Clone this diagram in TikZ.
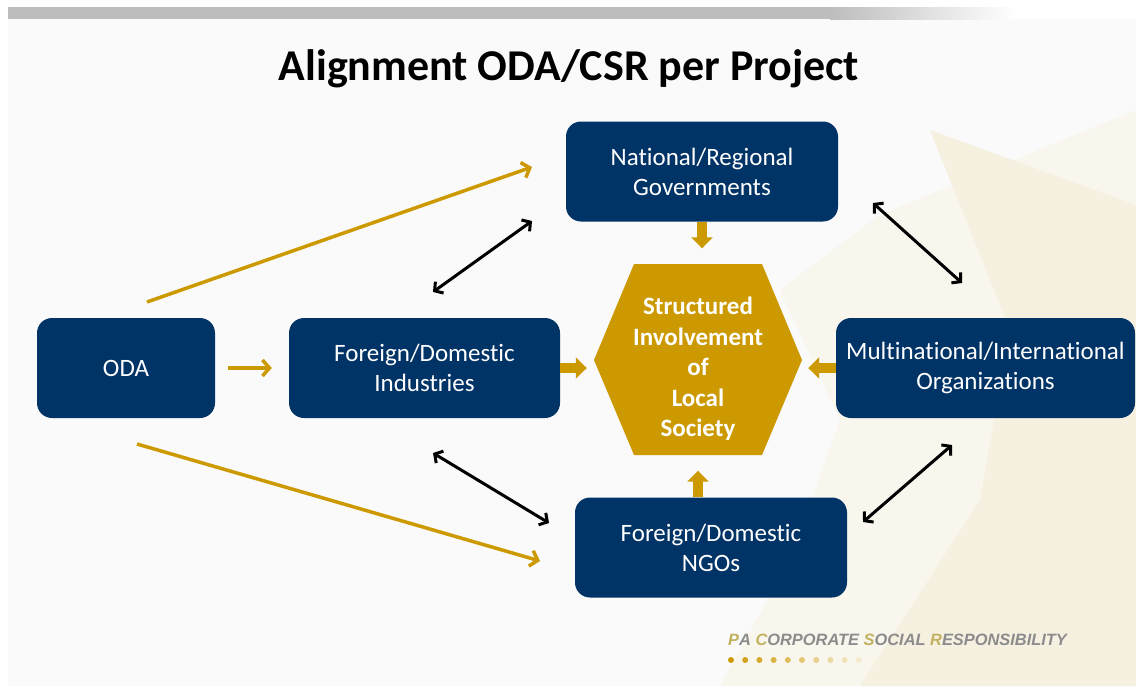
\documentclass[tikz,border=0pt]{standalone}
\usepackage{fontspec}
\setmainfont{Carlito}[Ligatures = {NoCommon}]
\newfontfamily\footfont{Liberation Sans}
\usetikzlibrary{arrows.meta}

\definecolor{navy}{HTML}{003366}
\definecolor{gold}{HTML}{CC9900}
\definecolor{bargray}{HTML}{BDBDBD}
\definecolor{paper}{HTML}{FAFAFA}
\definecolor{creamA}{HTML}{F9F6EE}
\definecolor{creamB}{HTML}{F6F0E1}
\definecolor{footgray}{HTML}{8C8C8C}
\definecolor{footgold}{HTML}{C2B260}

\begin{document}
\begin{tikzpicture}[x = 1pt, y = -1pt,
    box/.style = {fill = navy, text = white, rounded corners = 15pt, minimum height = 100pt,
      inner sep = 2pt, align = center, font = \fontsize{25}{30}\selectfont},
    feed/.style = {gold, line width = 3.5pt, -{Straight Barb[length = 7pt, width = 16pt]}},
    link/.style = {line width = 3pt,
      {Straight Barb[length = 6pt, width = 14pt]}-{Straight Barb[length = 6pt, width = 14pt]}},
    push/.style = {gold, line width = 10pt, -{Triangle[length = 11pt, width = 21pt]}}]
  \useasboundingbox (0,0) rectangle (1136,686);

  % slide background
  \fill [white] (0,0) rectangle (1136,686);
  \fill [paper] (8,19) rectangle (1136,686);
  \fill [bargray] (8,7) rectangle (830,19);
  \shade [left color = bargray, right color = white] (830,7) rectangle (1015,19);
  \fill [creamA] (780,290) -- (880,215) -- (1136,110) -- (1136,686) -- (720,686)
    -- (790,560) -- (840,420) -- cycle;
  \fill [creamB] (930,130) -- (1136,205) -- (1136,686) -- (860,686) -- (980,500)
    -- (1010,330) -- cycle;

  \node (title) at (569,80) [anchor = base, font = \fontsize{44}{50}\selectfont\bfseries]
    {Alignment ODA/CSR per Project};

  % actors
  \node (oda) at (126,368) [box, minimum width = 178pt] {ODA};
  \node (ind) at (424.5,368) [box, minimum width = 271pt] {Foreign/Domestic\\Industries};
  \node (gov) at (702,171.5) [box, minimum width = 272pt] {National/Regional\\Governments};
  \node (mult) at (985.5,368) [box, minimum width = 299pt]
    {Multinational/International\\Organizations};
  \node (ngo) at (711,547.5) [box, minimum width = 272pt] {Foreign/Domestic\\NGOs};

  % local society in the middle
  \fill [gold] (594,360) -- (634,264) -- (762,264) -- (802,360) -- (762,455)
    -- (634,455) -- cycle;
  \node (hex) at (698,360) [minimum width = 208pt, minimum height = 191pt, inner sep = 0pt] {};
  \node (hextext) at (698,369) [text = white, align = center,
    font = \fontsize{25}{30.5}\selectfont\bfseries]
    {Structured\\Involvement\\of\\Local\\Society};

  \draw [push, shorten >= 16pt] (gov.south) -- (gov.south |- hex.north);
  \draw [push, shorten >= 15pt] (ngo.north -| hex.south) -- (hex.south);
  \draw [push, shorten >= 7pt] (ind.east) -- (ind.east -| hex.west);
  \draw [push, shorten >= 6pt] (mult.west) -- (mult.west -| hex.east);

  % ODA funding lines
  \coordinate (odaup) at (147,302);
  \coordinate (odadown) at (137,444);
  \coordinate (govtip) at (532,167);
  \coordinate (ngotip) at (540,561);
  \draw [feed, shorten <= 13pt, shorten >= 17pt] (oda) -- (ind);
  \draw [feed] (odaup) -- (govtip);
  \draw [feed] (odadown) -- (ngotip);

  % partner links
  \coordinate (indup) at (433,292);
  \coordinate (govdown) at (532,221);
  \coordinate (indlow) at (433,453);
  \coordinate (ngoleft) at (549,523);
  \coordinate (govright) at (873,203);
  \coordinate (multup) at (962,283);
  \coordinate (ngoright) at (863,522);
  \coordinate (multlow) at (952,445);
  \draw [link] (indup) -- (govdown);
  \draw [link] (indlow) -- (ngoleft);
  \draw [link] (govright) -- (multup);
  \draw [link] (ngoright) -- (multlow);

  % footer
  \node (foot) at (728,645) [anchor = base west, inner sep = 0pt, text = footgray,
    font = \footfont\bfseries\itshape\fontsize{16.4}{20}\selectfont]
    {\textcolor{footgold}{P}A \textcolor{footgold}{C}ORPORATE \textcolor{footgold}{S}OCIAL
     \textcolor{footgold}{R}ESPONSIBILITY};
  \foreach \i [evaluate = \i as \c using int(100 - 9*\i)] in {0,...,10}
    \fill [gold!\c!white] (731 + 14.2*\i, 660) circle (3pt);
\end{tikzpicture}
\end{document}
